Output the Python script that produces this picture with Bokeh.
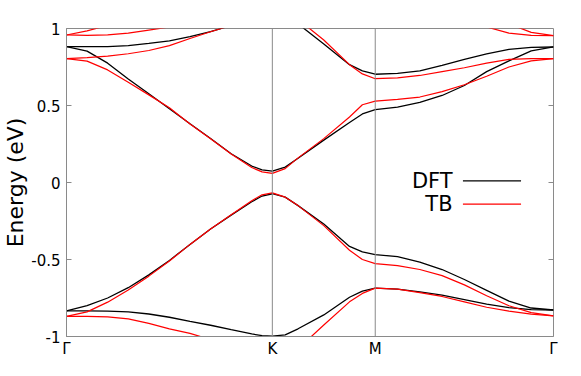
from bokeh.plotting import figure
from bokeh.models import Range1d, FixedTicker, Span, Label, Arrow
from bokeh.embed import file_html
from bokeh.resources import INLINE

nan = float("nan")

# high-symmetry points (path length in units of |b|)
HS_LABELS = ["Γ", "K", "M", "Γ"]
HS_POS = [0.0, 0.57735, 0.86603, 1.36603]

# sampling fractions along each segment
FRAC_GK = [0, 0.1, 0.2, 0.3, 0.4, 0.5, 0.6, 0.7, 0.8, 0.9, 0.95, 1.0]
FRAC_KM = [0.125, 0.25, 0.5, 0.75, 0.875, 1.0]
FRAC_MG = [0.125, 0.25, 0.375, 0.5, 0.625, 0.75, 0.875, 1.0]

Y_TICKS = [-1, -0.5, 0, 0.5, 1]
Y_TICK_LABELS = ["-1", "-0.5", "0", "0.5", "1"]

# DFT bands (eV)
dft_c1 = [0.882, 0.853, 0.775, 0.672, 0.576, 0.479, 0.382, 0.286, 0.187, 0.107, 0.082, 0.074,
          0.100, 0.157, 0.275, 0.390, 0.445, 0.473,
          0.490, 0.520, 0.565, 0.630, 0.720, 0.790, 0.855, 0.880]
dft_c2 = [0.882, 0.882, 0.882, 0.889, 0.903, 0.920, 0.947, 0.979, 1.02, nan, nan, nan,
          nan, 1.03, 0.900, 0.765, 0.725, 0.703,
          0.708, 0.725, 0.760, 0.800, 0.835, 0.865, 0.878, 0.880]
dft_v1 = [-0.833, -0.800, -0.750, -0.683, -0.600, -0.506, -0.402, -0.302, -0.212, -0.125, -0.088, -0.073,
          -0.095, -0.150, -0.270, -0.415, -0.450, -0.468,
          -0.482, -0.517, -0.565, -0.630, -0.700, -0.770, -0.815, -0.828]
dft_v2 = [-0.833, -0.833, -0.835, -0.840, -0.854, -0.875, -0.902, -0.927, -0.956, -0.983, -0.995, -0.998,
          -0.990, -0.950, -0.860, -0.745, -0.705, -0.686,
          -0.692, -0.710, -0.732, -0.760, -0.790, -0.812, -0.825, -0.828]

# TB bands (eV)
tb_c1 = [0.805, 0.788, 0.731, 0.651, 0.569, 0.485, 0.380, 0.284, 0.185, 0.097, 0.069, 0.059,
         0.090, 0.160, 0.285, 0.425, 0.505, 0.528,
         0.540, 0.555, 0.590, 0.635, 0.690, 0.750, 0.790, 0.805]
tb_c2 = [0.805, 0.811, 0.821, 0.836, 0.857, 0.889, 0.935, 0.979, 1.02, nan, nan, nan,
         nan, 1.06, 0.925, 0.765, 0.705, 0.674,
         0.680, 0.695, 0.720, 0.745, 0.775, 0.800, 0.805, 0.805]
tb_c3 = [0.958, 0.985, 1.02, nan, nan, nan, nan, nan, nan, nan, nan, nan,
         nan, nan, nan, nan, nan, nan,
         nan, nan, nan, nan, nan, 1.03, 0.975, 0.954]
tb_c4 = [0.958, 0.955, 0.958, 0.970, 0.990, 1.01, nan, nan, nan, nan, nan, nan,
         nan, nan, nan, nan, nan, nan,
         nan, nan, nan, nan, 1.01, 0.970, 0.955, 0.954]
tb_v1 = [-0.869, -0.840, -0.777, -0.698, -0.608, -0.510, -0.402, -0.302, -0.210, -0.118, -0.080, -0.067,
         -0.095, -0.150, -0.280, -0.440, -0.500, -0.527,
         -0.540, -0.565, -0.605, -0.665, -0.735, -0.800, -0.845, -0.866]
tb_v2 = [-0.869, -0.869, -0.873, -0.885, -0.915, -0.950, -0.980, -1.02, nan, nan, nan, nan,
         nan, -1.08, -0.925, -0.775, -0.720, -0.686,
         -0.692, -0.715, -0.740, -0.775, -0.810, -0.835, -0.855, -0.866]

DFT_BANDS = [dft_c1, dft_c2, dft_v1, dft_v2]
TB_BANDS = [tb_c1, tb_c2, tb_c3, tb_c4, tb_v1, tb_v2]

# k axis
k = []
for i, fr in enumerate([FRAC_GK, FRAC_KM, FRAC_MG]):
    a, b = HS_POS[i], HS_POS[i + 1]
    k += [a + f * (b - a) for f in fr]

FONT = "DejaVu Sans"
GRAY = "#8a8a8a"

p = figure(width=565, height=360, output_backend="svg", toolbar_location=None,
           x_range=Range1d(HS_POS[0], HS_POS[-1]), y_range=Range1d(-1, 1),
           min_border_left=60, min_border_right=12, min_border_top=28, min_border_bottom=10)
p.grid.visible = False
p.outline_line_color = GRAY
p.outline_line_width = 1
p.background_fill_color = "white"
p.border_fill_color = "white"

# y axis
yax = p.yaxis[0]
yax.ticker = FixedTicker(ticks=Y_TICKS)
yax.major_label_overrides = {t: s for t, s in zip(Y_TICKS, Y_TICK_LABELS)}
yax.major_tick_in = 5
yax.major_tick_out = 0
yax.minor_tick_line_color = None
yax.major_tick_line_color = GRAY
yax.axis_line_color = GRAY
yax.major_label_standoff = 6
yax.major_label_text_font = FONT
yax.major_label_text_font_size = "15px"
yax.major_label_text_color = "black"
yax.axis_label = "Energy (eV)"
yax.axis_label_text_font = FONT
yax.axis_label_text_font_size = "22px"
yax.axis_label_text_font_style = "normal"
yax.axis_label_text_color = "black"
yax.axis_label_standoff = 0

# mirror ticks on the right border (5 px long inward)
TICK_LEN = 0.014
for t in Y_TICKS[1:-1]:
    p.add_layout(Arrow(end=None, x_start=HS_POS[-1], y_start=t, x_end=HS_POS[-1] - TICK_LEN, y_end=t,
                       line_color=GRAY, line_width=1))

# x axis
xax = p.xaxis[0]
xax.ticker = FixedTicker(ticks=HS_POS)
xax.major_label_overrides = {t: s for t, s in zip(HS_POS, HS_LABELS)}
xax.major_tick_in = 0
xax.major_tick_out = 0
xax.minor_tick_line_color = None
xax.axis_line_color = GRAY
xax.major_label_standoff = 3
xax.major_label_text_font = FONT
xax.major_label_text_font_size = "15px"
xax.major_label_text_color = "black"

# vertical lines at interior high-symmetry points
for x in HS_POS[1:-1]:
    p.add_layout(Span(location=x, dimension="height", line_color=GRAY, line_width=1))

for band in DFT_BANDS:
    p.line(k, band, line_color="black", line_width=1.3)
for band in TB_BANDS:
    p.line(k, band, line_color="#ff0000", line_width=1.2)

# legend (text then sample line, gnuplot style)
LEG_X_TEXT = 1.083
LEG_X0, LEG_X1 = 1.112, 1.275
for name, yy, col in [("DFT", 0.011, "black"), ("TB", -0.14, "#ff0000")]:
    p.add_layout(Label(x=LEG_X_TEXT, y=yy, text=name, text_align="right", text_baseline="middle",
                       text_font=FONT, text_font_size="21px", text_color="black"))
    p.add_layout(Arrow(end=None, x_start=LEG_X0, y_start=yy, x_end=LEG_X1, y_end=yy,
                       line_color=col, line_width=1.2))

open("out.html", "w").write(file_html(p, INLINE))
